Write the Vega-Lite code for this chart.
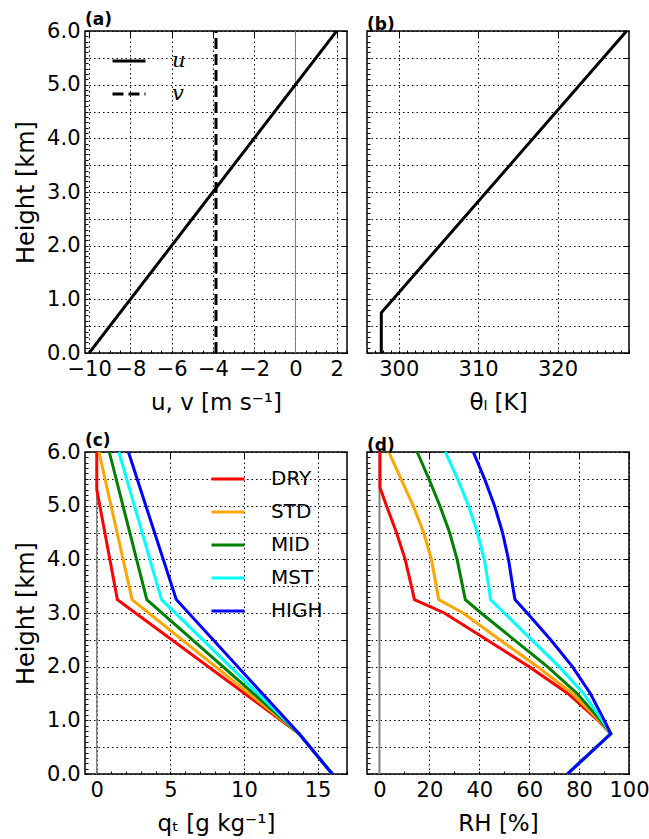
{
  "$schema": "https://vega.github.io/schema/vega-lite/v6.json",
  "padding": {"left": 13, "top": 10, "right": 0, "bottom": 0},
  "background": "white",
  "datasets": {
    "wind": [
      {"z": 0, "val": -10, "var": "u"}, {"z": 6, "val": 2, "var": "u"},
      {"z": 0, "val": -3.85, "var": "v"}, {"z": 6, "val": -3.85, "var": "v"}
    ],
    "theta": [
      {"z": 0, "th": 297.8}, {"z": 0.75, "th": 297.8}, {"z": 6, "th": 328.7}
    ],
    "qt": [
      {"z": 0, "q": 16, "case": "DRY"}, {"z": 0.75, "q": 13.75, "case": "DRY"}, {"z": 3.25, "q": 1.4, "case": "DRY"}, {"z": 5.3, "q": 0, "case": "DRY"}, {"z": 6, "q": 0, "case": "DRY"},
      {"z": 0, "q": 16, "case": "STD"}, {"z": 0.75, "q": 13.75, "case": "STD"}, {"z": 3.25, "q": 2.4, "case": "STD"}, {"z": 6, "q": 0.15, "case": "STD"},
      {"z": 0, "q": 16, "case": "MID"}, {"z": 0.75, "q": 13.75, "case": "MID"}, {"z": 3.25, "q": 3.4, "case": "MID"}, {"z": 6, "q": 0.85, "case": "MID"},
      {"z": 0, "q": 16, "case": "MST"}, {"z": 0.75, "q": 13.75, "case": "MST"}, {"z": 3.25, "q": 4.4, "case": "MST"}, {"z": 6, "q": 1.5, "case": "MST"},
      {"z": 0, "q": 16, "case": "HIGH"}, {"z": 0.75, "q": 13.75, "case": "HIGH"}, {"z": 3.25, "q": 5.4, "case": "HIGH"}, {"z": 6, "q": 2.15, "case": "HIGH"}
    ],
    "rh": [
      {"z": 0, "rh": 75.3, "case": "DRY"}, {"z": 0.75, "rh": 92.7, "case": "DRY"}, {"z": 1, "rh": 87.6, "case": "DRY"}, {"z": 1.5, "rh": 75.5, "case": "DRY"}, {"z": 2, "rh": 60, "case": "DRY"}, {"z": 2.5, "rh": 43, "case": "DRY"}, {"z": 3, "rh": 26, "case": "DRY"}, {"z": 3.25, "rh": 14, "case": "DRY"}, {"z": 3.5, "rh": 12.8, "case": "DRY"}, {"z": 4, "rh": 10.3, "case": "DRY"}, {"z": 4.5, "rh": 6.8, "case": "DRY"}, {"z": 5, "rh": 2.8, "case": "DRY"}, {"z": 5.34, "rh": 0.2, "case": "DRY"}, {"z": 6, "rh": 0.2, "case": "DRY"},
      {"z": 0, "rh": 75.3, "case": "STD"}, {"z": 0.75, "rh": 92.7, "case": "STD"}, {"z": 1, "rh": 88, "case": "STD"}, {"z": 1.5, "rh": 77.3, "case": "STD"}, {"z": 2, "rh": 63.3, "case": "STD"}, {"z": 2.5, "rh": 48.2, "case": "STD"}, {"z": 3, "rh": 33.5, "case": "STD"}, {"z": 3.25, "rh": 23.7, "case": "STD"}, {"z": 3.5, "rh": 22.8, "case": "STD"}, {"z": 4, "rh": 20.8, "case": "STD"}, {"z": 4.5, "rh": 17.7, "case": "STD"}, {"z": 5, "rh": 13.5, "case": "STD"}, {"z": 5.5, "rh": 8.6, "case": "STD"}, {"z": 6, "rh": 3.75, "case": "STD"},
      {"z": 0, "rh": 75.3, "case": "MID"}, {"z": 0.75, "rh": 92.7, "case": "MID"}, {"z": 1, "rh": 88.6, "case": "MID"}, {"z": 1.5, "rh": 79.2, "case": "MID"}, {"z": 2, "rh": 67.3, "case": "MID"}, {"z": 2.5, "rh": 54, "case": "MID"}, {"z": 3, "rh": 40.7, "case": "MID"}, {"z": 3.25, "rh": 34.4, "case": "MID"}, {"z": 3.5, "rh": 33.3, "case": "MID"}, {"z": 4, "rh": 31.1, "case": "MID"}, {"z": 4.5, "rh": 28.1, "case": "MID"}, {"z": 5, "rh": 24.2, "case": "MID"}, {"z": 5.5, "rh": 19.8, "case": "MID"}, {"z": 6, "rh": 15.1, "case": "MID"},
      {"z": 0, "rh": 75.3, "case": "MST"}, {"z": 0.75, "rh": 92.7, "case": "MST"}, {"z": 1, "rh": 89.3, "case": "MST"}, {"z": 1.5, "rh": 81.8, "case": "MST"}, {"z": 2, "rh": 72, "case": "MST"}, {"z": 2.5, "rh": 61, "case": "MST"}, {"z": 3, "rh": 50, "case": "MST"}, {"z": 3.25, "rh": 44.5, "case": "MST"}, {"z": 3.5, "rh": 43.8, "case": "MST"}, {"z": 4, "rh": 42, "case": "MST"}, {"z": 4.5, "rh": 39.2, "case": "MST"}, {"z": 5, "rh": 35.7, "case": "MST"}, {"z": 5.5, "rh": 31.3, "case": "MST"}, {"z": 6, "rh": 26.4, "case": "MST"},
      {"z": 0, "rh": 75.3, "case": "HIGH"}, {"z": 0.75, "rh": 92.7, "case": "HIGH"}, {"z": 1, "rh": 90.1, "case": "HIGH"}, {"z": 1.5, "rh": 84.5, "case": "HIGH"}, {"z": 2, "rh": 77.3, "case": "HIGH"}, {"z": 2.5, "rh": 68.6, "case": "HIGH"}, {"z": 3, "rh": 59.2, "case": "HIGH"}, {"z": 3.25, "rh": 54.3, "case": "HIGH"}, {"z": 3.5, "rh": 53.4, "case": "HIGH"}, {"z": 4, "rh": 51.7, "case": "HIGH"}, {"z": 4.5, "rh": 49.3, "case": "HIGH"}, {"z": 5, "rh": 46.1, "case": "HIGH"}, {"z": 5.5, "rh": 42.1, "case": "HIGH"}, {"z": 6, "rh": 37.6, "case": "HIGH"}
    ],
    "zero": [{"zero": 0}]
  },
  "columns": 2,
  "spacing": {"row": 16, "column": 16},
  "resolve": {
    "scale": {"x": "independent", "y": "independent", "color": "independent", "strokeDash": "independent"},
    "legend": {"color": "independent", "strokeDash": "independent"}
  },
  "concat": [
    {
      "title": {"text": "(a)"},
      "width": 262, "height": 322,
      "resolve": {"axis": {"x": "independent", "y": "independent"}},
      "layer": [
        {
          "data": {"name": "zero"},
          "mark": {"type": "rule", "color": "gray", "strokeWidth": 1},
          "encoding": {"x": {"field": "zero", "type": "quantitative", "scale": {"domain": [-10.2, 2.5], "nice": false, "zero": false}, "axis": null}}
        },
        {
          "data": {"name": "wind"},
          "mark": {"type": "line", "strokeWidth": 3, "color": "black", "strokeCap": "butt"},
          "encoding": {
            "x": {"field": "val", "type": "quantitative", "scale": {"domain": [-10.2, 2.5], "nice": false, "zero": false},
              "axis": {"orient": "bottom", "title": "u, v [m s⁻¹]", "tickSize": -3,
                "values": [-10, -9.5, -9, -8.5, -8, -7.5, -7, -6.5, -6, -5.5, -5, -4.5, -4, -3.5, -3, -2.5, -2, -1.5, -1, -0.5, 0, 0.5, 1, 1.5, 2, 2.5],
                "labelExpr": "datum.value % 2 === 0 ? format(datum.value, 'd') : ''"}},
            "y": {"field": "z", "type": "quantitative", "scale": {"domain": [0, 6], "nice": false},
              "axis": {"orient": "left", "title": "Height [km]", "tickSize": -3,
                "values": [0, 0.1, 0.2, 0.3, 0.4, 0.5, 0.6, 0.7, 0.8, 0.9, 1, 1.1, 1.2, 1.3, 1.4, 1.5, 1.6, 1.7, 1.8, 1.9, 2, 2.1, 2.2, 2.3, 2.4, 2.5, 2.6, 2.7, 2.8, 2.9, 3, 3.1, 3.2, 3.3, 3.4, 3.5, 3.6, 3.7, 3.8, 3.9, 4, 4.1, 4.2, 4.3, 4.4, 4.5, 4.6, 4.7, 4.8, 4.9, 5, 5.1, 5.2, 5.3, 5.4, 5.5, 5.6, 5.7, 5.8, 5.9, 6],
                "labelExpr": "datum.value % 1 === 0 ? format(datum.value, '.1f') : ''"}},
            "strokeDash": {"field": "var", "type": "nominal", "scale": {"domain": ["u", "v"], "range": [[1, 0], [11, 5]]},
              "legend": {"orient": "none", "legendX": 26, "legendY": 12, "title": null, "symbolType": "stroke", "symbolSize": 1089, "symbolStrokeWidth": 3, "symbolStrokeColor": "black", "labelFont": "DejaVu Serif", "labelFontStyle": "italic", "labelFontSize": 21, "labelOffset": 25, "rowPadding": 5, "padding": 0}},
            "order": {"field": "z", "type": "quantitative"}
          }
        },
        {
          "data": {"name": "wind"},
          "mark": {"type": "point", "opacity": 0},
          "encoding": {
            "x": {"field": "val", "type": "quantitative", "scale": {"domain": [-10.2, 2.5], "nice": false, "zero": false},
              "axis": {"orient": "top", "title": null, "labels": false, "tickSize": -6, "grid": true, "values": [-10, -8, -6, -4, -2, 0, 2]}},
            "y": {"field": "z", "type": "quantitative", "scale": {"domain": [0, 6], "nice": false},
              "axis": {"orient": "right", "title": null, "labels": false, "tickSize": -6, "grid": true, "values": [0, 0.5, 1, 1.5, 2, 2.5, 3, 3.5, 4, 4.5, 5, 5.5, 6]}}
          }
        }
      ]
    },
    {
      "title": {"text": "(b)"},
      "width": 262, "height": 322,
      "resolve": {"axis": {"x": "independent", "y": "independent"}},
      "layer": [
        {
          "data": {"name": "theta"},
          "mark": {"type": "line", "strokeWidth": 3, "color": "black"},
          "encoding": {
            "x": {"field": "th", "type": "quantitative", "scale": {"domain": [296, 329], "nice": false, "zero": false},
              "axis": {"orient": "bottom", "title": "θₗ [K]", "tickSize": -3,
                "values": [296, 297, 298, 299, 300, 301, 302, 303, 304, 305, 306, 307, 308, 309, 310, 311, 312, 313, 314, 315, 316, 317, 318, 319, 320, 321, 322, 323, 324, 325, 326, 327, 328, 329],
                "labelExpr": "datum.value % 10 === 0 ? format(datum.value, 'd') : ''"}},
            "y": {"field": "z", "type": "quantitative", "scale": {"domain": [0, 6], "nice": false},
              "axis": {"orient": "left", "title": null, "labels": false, "tickSize": -3,
                "values": [0, 0.1, 0.2, 0.3, 0.4, 0.5, 0.6, 0.7, 0.8, 0.9, 1, 1.1, 1.2, 1.3, 1.4, 1.5, 1.6, 1.7, 1.8, 1.9, 2, 2.1, 2.2, 2.3, 2.4, 2.5, 2.6, 2.7, 2.8, 2.9, 3, 3.1, 3.2, 3.3, 3.4, 3.5, 3.6, 3.7, 3.8, 3.9, 4, 4.1, 4.2, 4.3, 4.4, 4.5, 4.6, 4.7, 4.8, 4.9, 5, 5.1, 5.2, 5.3, 5.4, 5.5, 5.6, 5.7, 5.8, 5.9, 6]}},
            "order": {"field": "z", "type": "quantitative"}
          }
        },
        {
          "data": {"name": "theta"},
          "mark": {"type": "point", "opacity": 0},
          "encoding": {
            "x": {"field": "th", "type": "quantitative", "scale": {"domain": [296, 329], "nice": false, "zero": false},
              "axis": {"orient": "top", "title": null, "labels": false, "tickSize": -6, "grid": true, "values": [300, 310, 320]}},
            "y": {"field": "z", "type": "quantitative", "scale": {"domain": [0, 6], "nice": false},
              "axis": {"orient": "right", "title": null, "labels": false, "tickSize": -6, "grid": true, "values": [0, 0.5, 1, 1.5, 2, 2.5, 3, 3.5, 4, 4.5, 5, 5.5, 6]}}
          }
        }
      ]
    },
    {
      "title": {"text": "(c)"},
      "width": 262, "height": 322,
      "resolve": {"axis": {"x": "independent", "y": "independent"}},
      "layer": [
        {
          "data": {"name": "zero"},
          "mark": {"type": "rule", "color": "gray", "strokeWidth": 1.5},
          "encoding": {"x": {"field": "zero", "type": "quantitative", "scale": {"domain": [-0.8, 17], "nice": false, "zero": false}, "axis": null}}
        },
        {
          "data": {"name": "qt"},
          "mark": {"type": "line", "strokeWidth": 3},
          "encoding": {
            "x": {"field": "q", "type": "quantitative", "scale": {"domain": [-0.8, 17], "nice": false, "zero": false},
              "axis": {"orient": "bottom", "title": "qₜ [g kg⁻¹]", "tickSize": -3,
                "values": [0, 1, 2, 3, 4, 5, 6, 7, 8, 9, 10, 11, 12, 13, 14, 15, 16, 17],
                "labelExpr": "datum.value % 5 === 0 ? format(datum.value, 'd') : ''"}},
            "y": {"field": "z", "type": "quantitative", "scale": {"domain": [0, 6], "nice": false},
              "axis": {"orient": "left", "title": "Height [km]", "tickSize": -3,
                "values": [0, 0.1, 0.2, 0.3, 0.4, 0.5, 0.6, 0.7, 0.8, 0.9, 1, 1.1, 1.2, 1.3, 1.4, 1.5, 1.6, 1.7, 1.8, 1.9, 2, 2.1, 2.2, 2.3, 2.4, 2.5, 2.6, 2.7, 2.8, 2.9, 3, 3.1, 3.2, 3.3, 3.4, 3.5, 3.6, 3.7, 3.8, 3.9, 4, 4.1, 4.2, 4.3, 4.4, 4.5, 4.6, 4.7, 4.8, 4.9, 5, 5.1, 5.2, 5.3, 5.4, 5.5, 5.6, 5.7, 5.8, 5.9, 6],
                "labelExpr": "datum.value % 1 === 0 ? format(datum.value, '.1f') : ''"}},
            "color": {"field": "case", "type": "nominal", "scale": {"domain": ["DRY", "STD", "MID", "MST", "HIGH"], "range": ["#ff0000", "#ffa500", "#008000", "#00ffff", "#0000ff"]},
              "legend": {"orient": "none", "legendX": 125, "legendY": 9, "title": null, "symbolType": "stroke", "symbolSize": 1089, "symbolStrokeWidth": 3, "labelFontSize": 20, "labelOffset": 25, "rowPadding": 5, "padding": 0}},
            "order": {"field": "z", "type": "quantitative"}
          }
        },
        {
          "data": {"name": "qt"},
          "mark": {"type": "point", "opacity": 0},
          "encoding": {
            "x": {"field": "q", "type": "quantitative", "scale": {"domain": [-0.8, 17], "nice": false, "zero": false},
              "axis": {"orient": "top", "title": null, "labels": false, "tickSize": -6, "grid": true, "values": [0, 5, 10, 15]}},
            "y": {"field": "z", "type": "quantitative", "scale": {"domain": [0, 6], "nice": false},
              "axis": {"orient": "right", "title": null, "labels": false, "tickSize": -6, "grid": true, "values": [0, 0.5, 1, 1.5, 2, 2.5, 3, 3.5, 4, 4.5, 5, 5.5, 6]}}
          }
        }
      ]
    },
    {
      "title": {"text": "(d)"},
      "width": 262, "height": 322,
      "resolve": {"axis": {"x": "independent", "y": "independent"}},
      "layer": [
        {
          "data": {"name": "zero"},
          "mark": {"type": "rule", "color": "gray", "strokeWidth": 2},
          "encoding": {"x": {"field": "zero", "type": "quantitative", "scale": {"domain": [-5, 100], "nice": false, "zero": false}, "axis": null}}
        },
        {
          "data": {"name": "rh"},
          "mark": {"type": "line", "strokeWidth": 3},
          "encoding": {
            "x": {"field": "rh", "type": "quantitative", "scale": {"domain": [-5, 100], "nice": false, "zero": false},
              "axis": {"orient": "bottom", "title": "RH [%]", "tickSize": -3,
                "values": [0, 10, 20, 30, 40, 50, 60, 70, 80, 90, 100],
                "labelExpr": "datum.value % 20 === 0 ? format(datum.value, 'd') : ''"}},
            "y": {"field": "z", "type": "quantitative", "scale": {"domain": [0, 6], "nice": false},
              "axis": {"orient": "left", "title": null, "labels": false, "tickSize": -3,
                "values": [0, 0.1, 0.2, 0.3, 0.4, 0.5, 0.6, 0.7, 0.8, 0.9, 1, 1.1, 1.2, 1.3, 1.4, 1.5, 1.6, 1.7, 1.8, 1.9, 2, 2.1, 2.2, 2.3, 2.4, 2.5, 2.6, 2.7, 2.8, 2.9, 3, 3.1, 3.2, 3.3, 3.4, 3.5, 3.6, 3.7, 3.8, 3.9, 4, 4.1, 4.2, 4.3, 4.4, 4.5, 4.6, 4.7, 4.8, 4.9, 5, 5.1, 5.2, 5.3, 5.4, 5.5, 5.6, 5.7, 5.8, 5.9, 6]}},
            "color": {"field": "case", "type": "nominal", "scale": {"domain": ["DRY", "STD", "MID", "MST", "HIGH"], "range": ["#ff0000", "#ffa500", "#008000", "#00ffff", "#0000ff"]}, "legend": null},
            "order": {"field": "z", "type": "quantitative"}
          }
        },
        {
          "data": {"name": "rh"},
          "mark": {"type": "point", "opacity": 0},
          "encoding": {
            "x": {"field": "rh", "type": "quantitative", "scale": {"domain": [-5, 100], "nice": false, "zero": false},
              "axis": {"orient": "top", "title": null, "labels": false, "tickSize": -6, "grid": true, "values": [0, 20, 40, 60, 80, 100]}},
            "y": {"field": "z", "type": "quantitative", "scale": {"domain": [0, 6], "nice": false},
              "axis": {"orient": "right", "title": null, "labels": false, "tickSize": -6, "grid": true, "values": [0, 0.5, 1, 1.5, 2, 2.5, 3, 3.5, 4, 4.5, 5, 5.5, 6]}}
          }
        }
      ]
    }
  ],
  "config": {
    "font": "DejaVu Sans",
    "view": {"stroke": "black", "strokeWidth": 1.5},
    "title": {"anchor": "start", "frame": "group", "fontSize": 17, "fontWeight": "bold", "offset": -9, "color": "black", "font": "DejaVu Sans"},
    "axis": {
      "domain": false,
      "labelFont": "DejaVu Sans", "labelFontSize": 21, "labelColor": "black", "labelPadding": 8,
      "labelOverlap": false, "labelFlush": false, "labelBound": false,
      "titleFont": "DejaVu Sans", "titleFontSize": 24, "titleFontWeight": "normal", "titleColor": "black", "titlePadding": 8,
      "tickColor": "black", "tickWidth": 1,
      "grid": false, "gridColor": "black", "gridDash": [1.5, 3], "gridOpacity": 1, "gridWidth": 1
    },
    "axisX": {"titlePadding": 12, "titleFontSize": 23},
    "legend": {"labelColor": "black", "labelFont": "DejaVu Sans"}
  }
}
